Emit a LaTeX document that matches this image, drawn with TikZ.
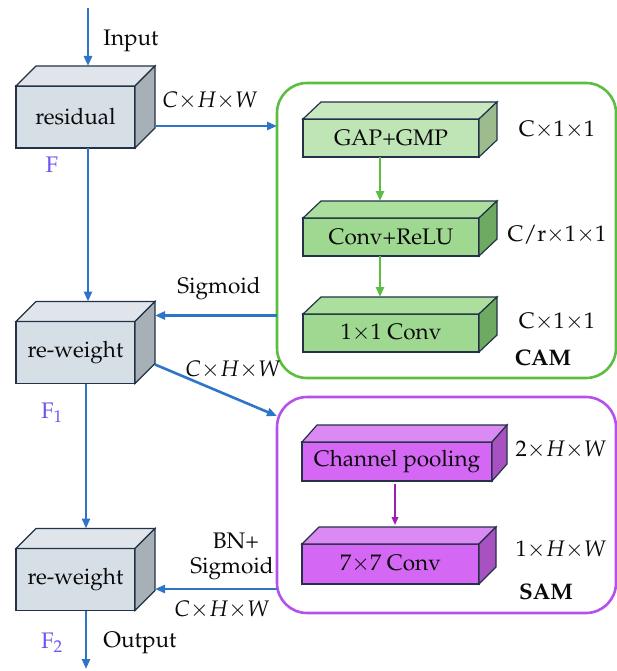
\documentclass[tikz,border=0pt]{standalone}
\usepackage[T1]{fontenc}
\usepackage{mathpazo}
\usetikzlibrary{calc,arrows.meta}

\definecolor{flowblue}{RGB}{46,117,201}
\definecolor{edgenavy}{RGB}{35,50,70}
\definecolor{grayfront}{RGB}{214,223,230}
\definecolor{graytop}{RGB}{223,229,234}
\definecolor{grayside}{RGB}{168,176,183}
\definecolor{camgreen}{RGB}{92,190,65}
\definecolor{gapfront}{RGB}{191,229,182}
\definecolor{gaptop}{RGB}{200,233,192}
\definecolor{gapside}{RGB}{156,188,142}
\definecolor{relufront}{RGB}{159,216,144}
\definecolor{relutop}{RGB}{172,222,158}
\definecolor{reluside}{RGB}{111,170,98}
\definecolor{samviolet}{RGB}{180,80,236}
\definecolor{pathviolet}{RGB}{155,31,176}
\definecolor{poolfront}{RGB}{213,103,245}
\definecolor{pooltop}{RGB}{220,138,243}
\definecolor{poolside}{RGB}{168,82,194}
\definecolor{labelviolet}{RGB}{105,85,240}
\definecolor{textblack}{RGB}{10,10,10}

\begin{document}
\begin{tikzpicture}[x=1pt, y=-1pt,
  every node/.style={font=\fontsize{22.5}{26}\selectfont, text=textblack},
  frontbox/.style={shape=rectangle, draw=edgenavy, line width=1.2, inner sep=0pt, outer sep=0pt},
  graybox/.style={frontbox, fill=grayfront, minimum width=119pt, minimum height=62pt},
  modulebox/.style={shape=rectangle, rounded corners=30pt, line width=2.6, inner sep=0pt, outer sep=0pt, fill=none},
  flowline/.style={draw=flowblue, line width=2.6, -{Triangle[length=10pt,width=8pt]}},
  greenline/.style={draw=camgreen, line width=2.6, -{Triangle[length=10pt,width=8pt]}},
  violetline/.style={draw=pathviolet, line width=1.8, -{Triangle[length=8pt,width=6.5pt]}},
  featlabel/.style={text=labelviolet},
]
\useasboundingbox (0,0) rectangle (617,671);

%MODULE FRAMES
\node[modulebox, draw=camgreen, minimum width=339pt, minimum height=295pt] (cam) at (446.5,230.5) {};
\node[modulebox, draw=samviolet, minimum width=339pt, minimum height=216pt] (sam) at (446.5,505) {};

%LEFT BLOCKS
\node[graybox] (res) at (75.5,117) {residual};
\node[graybox] (rw1) at (75.5,352.5) {re-weight};
\node[graybox] (rw2) at (75.5,579.5) {re-weight};

%CAM BLOCKS
\node[frontbox, fill=gapfront, minimum width=176pt, minimum height=38pt] (gap) at (391,138) {GAP+GMP};
\node[frontbox, fill=relufront, minimum width=176pt, minimum height=38pt] (relu) at (391,237) {Conv+ReLU};
\node[frontbox, fill=relufront, minimum width=176pt, minimum height=38pt] (conv1) at (391,333) {1$\times$1 Conv};

%SAM BLOCKS
\node[frontbox, fill=poolfront, minimum width=190pt, minimum height=39pt] (pool) at (397,461.5) {Channel pooling};
\node[frontbox, fill=poolfront, minimum width=177pt, minimum height=40pt] (conv7) at (390.5,564) {7$\times$7 Conv};

%TOP AND SIDE FACES
\foreach \b/\dx/\dy/\tc/\sc in {res/20/20/graytop/grayside, rw1/20/20/graytop/grayside, rw2/20/20/graytop/grayside,
    gap/18/17/gaptop/gapside, relu/18/17/relutop/reluside, conv1/18/17/relutop/reluside,
    pool/15/17/pooltop/poolside, conv7/17/17/pooltop/poolside}{
  \filldraw[fill=\tc, draw=edgenavy, line width=1.2] (\b.north west) -- ++(\dx,-\dy) -- ($(\b.north east)+(\dx,-\dy)$) -- (\b.north east) -- cycle;
  \filldraw[fill=\sc, draw=edgenavy, line width=1.2] (\b.north east) -- ++(\dx,-\dy) -- ($(\b.south east)+(\dx,-\dy)$) -- (\b.south east) -- cycle;
}

%MAIN PATH
\coordinate (in) at (88,8);
\coordinate (out) at (86,669);
\draw[flowline] (in) -- ($(res.north)+(12.5,-20)$);
\draw[flowline] ($(res.south)+(12.5,0)$) -- ($(rw1.north)+(12.5,-20)$);
\draw[flowline] ($(rw1.south)+(10.5,0)$) -- ($(rw2.north)+(10.5,-20)$);
\draw[flowline] ($(rw2.south)+(10.5,0)$) -- (out);

%BRANCHES
\coordinate (resout) at ($(res.east)+(20,9)$);
\draw[flowline] (resout) -- (resout -| cam.west);
\coordinate (sigin) at ($(rw1.north east)+(20,-6)$);
\draw[flowline] (sigin -| cam.west) -- (sigin);
\coordinate (rwout) at ($(rw1.east)+(20,12)$);
\draw[flowline] (rwout) -- ($(sam.north west)+(0,19)$);
\coordinate (samin) at ($(rw2.east)+(20,9.5)$);
\draw[flowline] (samin -| sam.west) -- (samin);

\draw[greenline] ($(gap.south)+(-11,0)$) -- ($(relu.north)+(-11,-17)$);
\draw[greenline] ($(relu.south)+(-11,0)$) -- ($(conv1.north)+(-11,-17)$);
\draw[violetline] ($(pool.south)+(-2,3)$) -- ($(conv7.north)+(4.5,-19)$);

%LABELS
\node (inputlab) at (131,41) {Input};
\node (outputlab) at (140,643) {Output};
\node[featlabel] (flab) at (52,165) {F};
\node[featlabel] (f1lab) at (52,413) {F$_1$};
\node[featlabel] (f2lab) at (52,643) {F$_2$};
\node (chw1) at (210,101) {$C{\times}H{\times}W$};
\node (sig1) at (219,289) {Sigmoid};
\node (chw2) at (233,370) {$C{\times}H{\times}W$};
\node (bnlab) at (236,541) {BN+};
\node (sig2) at (232,569) {Sigmoid};
\node (chw3) at (222,610) {$C{\times}H{\times}W$};

\node (gapdim) at (557,130) {C$\times$1$\times$1};
\node (reludim) at (557,235) {C/r$\times$1$\times$1};
\node (convdim) at (557,322) {C$\times$1$\times$1};
\node (camlab) at (543,358) {\bfseries CAM};
\node (pooldim) at (561,450) {2$\times$$H$$\times$$W$};
\node (conv7dim) at (561,550) {1$\times$$H$$\times$$W$};
\node (samlab) at (546,592) {\bfseries SAM};

\end{tikzpicture}
\end{document}
